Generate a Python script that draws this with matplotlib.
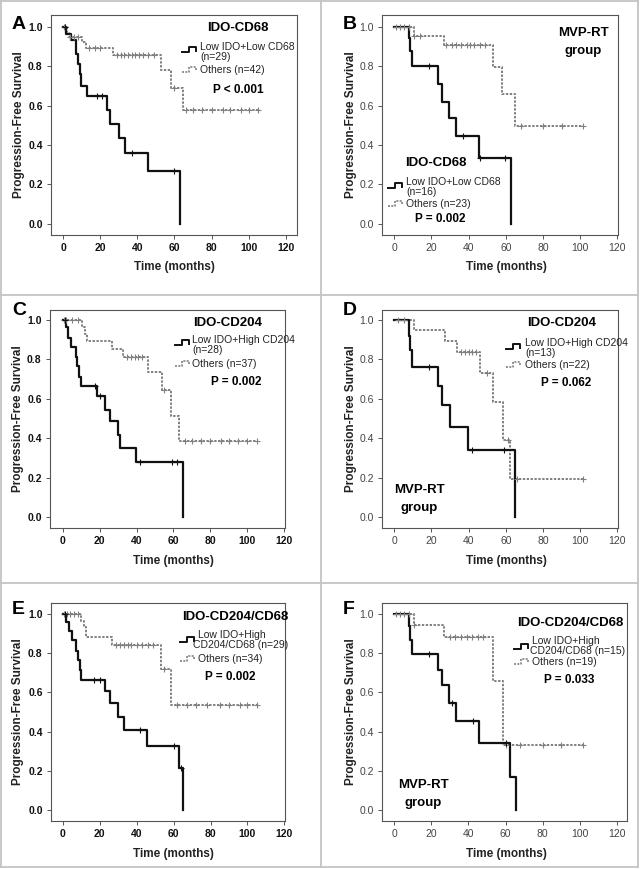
import matplotlib
matplotlib.use("Agg")
import matplotlib.pyplot as plt
from matplotlib.lines import Line2D
import numpy as np

plt.rcParams["font.family"] = ["Liberation Sans", "DejaVu Sans"]

W, H = 642, 869

# ---- Kaplan-Meier steps (time in months, survival) ----
A_low_t = [0, 1.5, 4.5, 7, 8, 9, 9.7, 13, 23.5, 25.5, 30, 33.5, 46, 63]
A_low_s = [1.0, 0.965, 0.93, 0.86, 0.81, 0.76, 0.70, 0.65, 0.58, 0.505, 0.435, 0.36, 0.27, 0.0]
A_low_cens = [1, 18.5, 21, 37, 60]
A_oth_t = [0, 2, 3, 10.2, 12.2, 26.8, 52.5, 58.3, 64.7]
A_oth_s = [1.0, 0.97, 0.95, 0.92, 0.89, 0.855, 0.78, 0.69, 0.575]
A_oth_cens = [0.5, 1, 4, 6, 8, 14, 17, 20, 29, 31, 33, 35, 37, 39, 41, 43, 46, 49,
              60, 66, 70, 75, 80, 86, 90, 96, 100, 105]

B_low_t = [0, 8.1, 8.6, 9.3, 23.4, 25.5, 29.6, 33.2, 45.8, 62.9]
B_low_s = [1.0, 0.94, 0.875, 0.80, 0.71, 0.62, 0.535, 0.445, 0.335, 0.0]
B_low_cens = [18.9, 36.8, 46.3, 59.6]
B_oth_t = [0, 10.4, 26.9, 53, 58, 65.2]
B_oth_s = [1.0, 0.955, 0.905, 0.795, 0.66, 0.495]
B_oth_cens = [1, 3, 5, 8, 10.5, 14, 28, 31, 33, 36, 39, 41, 43, 46, 49, 68, 80, 90, 101.8]

C_low_t = [0, 1.5, 2.7, 4.7, 7.2, 7.9, 8.8, 9.7, 18.4, 22.9, 25.6, 30.1, 31, 39.7, 65.3]
C_low_s = [1.0, 0.965, 0.91, 0.862, 0.81, 0.767, 0.71, 0.663, 0.612, 0.545, 0.487, 0.418,
           0.349, 0.278, 0.0]
C_low_cens = [1, 17.5, 20, 42, 59, 62]
C_oth_t = [0, 10.3, 12, 13, 26.9, 32.9, 46, 53.6, 58.5, 63]
C_oth_s = [1.0, 0.965, 0.93, 0.895, 0.855, 0.81, 0.735, 0.645, 0.515, 0.385]
C_oth_cens = [0.5, 2, 5, 8, 35, 37, 39, 41, 43, 55, 66, 70, 75, 80, 86, 90, 95, 100, 105.4]

D_low_t = [0, 7.7, 8.4, 9.3, 23.4, 25.5, 30, 39.5, 65.2]
D_low_s = [1.0, 0.92, 0.845, 0.76, 0.665, 0.57, 0.455, 0.34, 0.0]
D_low_cens = [18.5, 42, 59]
D_oth_t = [0, 10.4, 27.3, 33.6, 46, 53, 58.4, 62.5]
D_oth_s = [1.0, 0.95, 0.895, 0.835, 0.73, 0.585, 0.39, 0.195]
D_oth_cens = [2, 5, 36, 38, 40, 42, 44, 50, 61, 66, 101.8]

E_low_t = [0, 1.8, 3, 4.9, 7.2, 8.1, 9, 9.7, 22.9, 25.6, 30.1, 33.2, 45.8, 63, 65.3]
E_low_s = [1.0, 0.955, 0.91, 0.865, 0.81, 0.765, 0.715, 0.665, 0.605, 0.545, 0.475, 0.41,
           0.325, 0.215, 0.0]
E_low_cens = [1, 17, 20, 42, 60, 64]
E_oth_t = [0, 9.7, 11.2, 12.6, 26.5, 53, 58.5]
E_oth_s = [1.0, 0.965, 0.93, 0.88, 0.84, 0.72, 0.535]
E_oth_cens = [0.5, 2, 4, 6, 8, 29, 31, 33, 35, 37, 40, 43, 46, 49, 55, 62, 67, 72, 78, 85,
              90, 96, 100, 105.4]

F_low_t = [0, 8.1, 8.6, 9.3, 23.4, 25.5, 29.6, 33.2, 45.8, 62.5, 65.6]
F_low_s = [1.0, 0.935, 0.865, 0.795, 0.715, 0.635, 0.545, 0.455, 0.34, 0.17, 0.0]
F_low_cens = [18.9, 31, 42.5, 60]
F_oth_t = [0, 10.4, 26.9, 53, 58.4]
F_oth_s = [1.0, 0.94, 0.88, 0.66, 0.33]
F_oth_cens = [1, 3, 5, 8, 10.5, 30, 33, 36, 39, 42, 45, 48, 60, 68, 80, 90, 101.8]

TITLES = ["IDO-CD68", "IDO-CD68", "IDO-CD204", "IDO-CD204", "IDO-CD204/CD68", "IDO-CD204/CD68"]
LOW_LABELS = [["Low IDO+Low CD68", "(n=29)"], ["Low IDO+Low CD68", "(n=16)"],
              ["Low IDO+High CD204", "(n=28)"], ["Low IDO+High CD204", "(n=13)"],
              ["Low IDO+High", "CD204/CD68 (n=29)"], ["Low IDO+High", "CD204/CD68 (n=15)"]]
OTH_LABELS = ["Others (n=42)", "Others (n=23)", "Others (n=37)", "Others (n=22)",
              "Others (n=34)", "Others (n=19)"]
P_LABELS = ["P < 0.001", "P = 0.002", "P = 0.002", "P = 0.062", "P = 0.002", "P = 0.033"]
LETTERS = ["A", "B", "C", "D", "E", "F"]

# ---- layout in pixels ----
# axes box: left, top, right, bottom ; xlim ; ylim
AX_BOX = [(51, 15, 297, 235), (382, 15, 618, 235),
          (50, 310, 285, 528), (382, 310, 618, 528),
          (51, 603, 285, 821), (382, 603, 627, 821)]
XLIMS = [(-6.5, 126), (-6.6, 120.4), (-6.9, 120.4), (-6.6, 120.4), (-6.5, 120.4), (-6.6, 125.4)]
YLIMS = [(-0.056, 1.059), (-0.056, 1.059), (-0.054, 1.05), (-0.054, 1.05),
         (-0.054, 1.054), (-0.054, 1.054)]

# text anchors (pixels): letter, title, legend, p-value, ylabel x, xlabel y
LETTER_XY = [(12, 29), (343, 29), (12, 315), (343, 315), (12, 614), (343, 614)]
TITLE_XY = [(238, 28), (436, 163), (228, 323), (562, 323), (235, 617), (570, 623)]
GLYPH_X = [182, 388, 175, 506, 180, 514]
LOW_TEXT = [((200, 47), (200, 57)), ((406, 182), (406, 192)),
            ((192, 340), (192, 350)), ((525, 343), (525, 353)),
            ((198, 635), (193, 645)), ((532, 641), (530, 651))]
LOW_GLYPH_Y = [50, 186, 343, 347, 640, 647]
OTH_XY = [(200, 70), (406, 204), (192, 364), (525, 365), (198, 659), (532, 662)]
P_XY = [(238, 90), (440, 219), (236, 382), (566, 383), (230, 677), (569, 680)]
YLAB_XY = [(19, 125), (351, 125), (18, 419), (351, 419), (18, 712), (351, 712)]
XLAB_XY = [(174, 267), (506, 267), (173, 561), (506, 561), (173, 854), (506, 854)]
MVP_XY = {1: (583, 33), 3: (419, 490), 5: (423, 785)}

DATA = [(A_low_t, A_low_s, A_low_cens, A_oth_t, A_oth_s, A_oth_cens),
        (B_low_t, B_low_s, B_low_cens, B_oth_t, B_oth_s, B_oth_cens),
        (C_low_t, C_low_s, C_low_cens, C_oth_t, C_oth_s, C_oth_cens),
        (D_low_t, D_low_s, D_low_cens, D_oth_t, D_oth_s, D_oth_cens),
        (E_low_t, E_low_s, E_low_cens, E_oth_t, E_oth_s, E_oth_cens),
        (F_low_t, F_low_s, F_low_cens, F_oth_t, F_oth_s, F_oth_cens)]

LOW_COLOR = "#111111"
OTH_COLOR = "#808080"
FRAME = "#c4c4c4"

fig = plt.figure(figsize=(W / 100, H / 100), dpi=100)
fig.patch.set_facecolor("white")


def fx(x):
    return x / W


def fy(y):
    return 1 - y / H


def ftext(x, y, s, **kw):
    fig.text(fx(x), fy(y), s, **kw)


def km(ax, t, s, cens, color, ls, lw):
    t = np.asarray(t, float)
    s = np.asarray(s, float)
    end = max(t[-1], max(cens))
    ax.step(np.append(t, end), np.append(s, s[-1]), where="post",
            color=color, linestyle=ls, linewidth=lw, zorder=3)
    idx = np.searchsorted(t, cens, side="right") - 1
    ax.plot(cens, s[idx], linestyle="none", marker="+", markersize=4,
            markeredgewidth=0.8, color=color, zorder=4)


def glyph(x, y, color, ls, lw):
    # small step-shaped legend sample, drawn in figure pixels
    xs = [x, x + 7, x + 7, x + 14, x + 14]
    ys = [y + 2, y + 2, y - 3, y - 3, y + 1]
    fig.add_artist(Line2D([fx(v) for v in xs], [fy(v) for v in ys], color=color,
                          linestyle=ls, linewidth=lw, transform=fig.transFigure))


for i, (lt, ls_, lc, ot, os_, oc) in enumerate(DATA):
    left, top, right, bottom = AX_BOX[i]
    ax = fig.add_axes([fx(left), fy(bottom), (right - left) / W, (bottom - top) / H])
    km(ax, ot, os_, oc, OTH_COLOR, (0, (1.2, 0.8)), 1.4)
    km(ax, lt, ls_, lc, LOW_COLOR, "-", 1.6)
    ax.set_xlim(*XLIMS[i])
    ax.set_ylim(*YLIMS[i])
    ax.set_xticks(range(0, 121, 20))
    ax.set_yticks(np.arange(0, 1.01, 0.2))
    ax.set_yticklabels([f"{v:.1f}" for v in np.arange(0, 1.01, 0.2)])
    bold = i % 2 == 0
    tick_color = "#111111" if bold else "#444444"
    ax.tick_params(direction="out", length=3, width=0.7, color="#555555",
                   labelsize=7.5, labelcolor=tick_color, pad=3)
    for lab in ax.get_xticklabels() + ax.get_yticklabels():
        lab.set_fontweight("bold" if bold else "normal")
    for spine in ax.spines.values():
        spine.set_edgecolor("#555555")
        spine.set_linewidth(0.8)

    ftext(*LETTER_XY[i], LETTERS[i], fontsize=14, fontweight="bold", ha="left", va="baseline")
    ftext(*TITLE_XY[i], TITLES[i], fontsize=9.5, fontweight="bold", ha="center", va="center")
    glyph(GLYPH_X[i], LOW_GLYPH_Y[i], LOW_COLOR, "-", 1.4)
    glyph(GLYPH_X[i], OTH_XY[i][1], OTH_COLOR, (0, (1.2, 0.8)), 1.2)
    (x1, y1), (x2, y2) = LOW_TEXT[i]
    ftext(x1, y1, LOW_LABELS[i][0], fontsize=7.5, ha="left", va="center", color="#222222")
    ftext(x2, y2, LOW_LABELS[i][1], fontsize=7.5, ha="left", va="center", color="#222222")
    ftext(*OTH_XY[i], OTH_LABELS[i], fontsize=7.5, ha="left", va="center", color="#222222")
    ftext(*P_XY[i], P_LABELS[i], fontsize=8.5, fontweight="bold", ha="center", va="center")
    ftext(*YLAB_XY[i], "Progression-Free Survival", fontsize=8.5, fontweight="bold",
          rotation=90, ha="center", va="center", color="#222222")
    ftext(*XLAB_XY[i], "Time (months)", fontsize=8.5, fontweight="bold",
          ha="center", va="center", color="#222222")
    if i in MVP_XY:
        mx, my = MVP_XY[i]
        ftext(mx, my, "MVP-RT", fontsize=9.5, fontweight="bold", ha="center", va="center")
        ftext(mx, my + 18, "group", fontsize=9.5, fontweight="bold", ha="center", va="center")

# panel frame lines
for (x0, y0, x1, y1) in [(1, 1, 638, 1), (1, 867, 638, 867), (1, 1, 1, 867),
                         (638, 1, 638, 867), (321, 1, 321, 867),
                         (1, 295, 638, 295), (1, 583, 638, 583)]:
    fig.add_artist(Line2D([fx(x0), fx(x1)], [fy(y0), fy(y1)], color=FRAME,
                          linewidth=1.3, transform=fig.transFigure))

fig.savefig("out.png", dpi=100, facecolor="white")
